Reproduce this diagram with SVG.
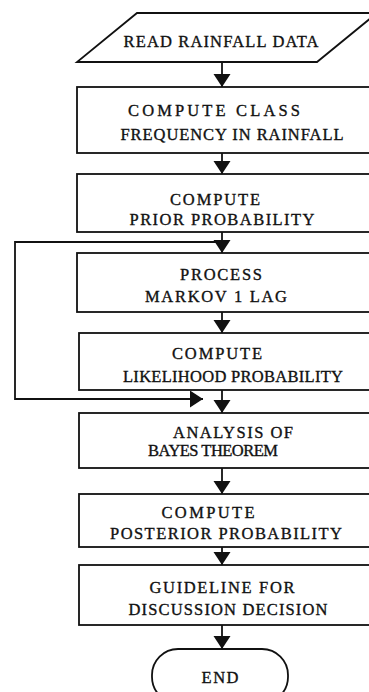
<svg xmlns="http://www.w3.org/2000/svg" width="369" height="692" viewBox="0 0 369 692">
<style>
.box{fill:#fff;stroke:#111;stroke-width:1.8}
.ln{fill:none;stroke:#111;stroke-width:1.8}
.t{font-family:"Liberation Serif","Times New Roman",serif;font-size:16.5px;fill:#111;text-anchor:middle;stroke:#111;stroke-width:0.35}
</style>
<defs>
<marker id="ah" markerUnits="userSpaceOnUse" markerWidth="14" markerHeight="18" refX="13" refY="8.5" orient="auto">
<path d="M0,0 L13,8.5 L0,17 Z" fill="#111"/>
</marker>
</defs>
<rect width="369" height="692" fill="#fff"/>
<g id="connectors">
<line class="ln" x1="222" y1="62" x2="222" y2="87" marker-end="url(#ah)"/>
<line class="ln" x1="222" y1="153" x2="222" y2="174" marker-end="url(#ah)"/>
<line class="ln" x1="222" y1="232" x2="222" y2="253" marker-end="url(#ah)"/>
<line class="ln" x1="222" y1="312" x2="222" y2="333" marker-end="url(#ah)"/>
<line class="ln" x1="222" y1="390" x2="222" y2="413" marker-end="url(#ah)"/>
<line class="ln" x1="222" y1="468" x2="222" y2="494" marker-end="url(#ah)"/>
<line class="ln" x1="222" y1="547" x2="222" y2="565" marker-end="url(#ah)"/>
<line class="ln" x1="222" y1="625" x2="222" y2="649" marker-end="url(#ah)"/>
<polyline class="ln" points="222,242 15,242 15,399 203,399" marker-end="url(#ah)"/>
</g>
<g id="read">
<polygon class="box" points="137,13 377,13 317,62 77,62"/>
<text class="t" x="221" y="47" textLength="195" lengthAdjust="spacing">READ RAINFALL DATA</text>
</g>
<g id="freq">
<rect class="box" x="77" y="87" width="296" height="66"/>
<text class="t" x="214" y="116" textLength="172" lengthAdjust="spacing">COMPUTE  CLASS</text>
<text class="t" x="232" y="140" textLength="223" lengthAdjust="spacing">FREQUENCY IN RAINFALL</text>
</g>
<g id="prior">
<rect class="box" x="77" y="174" width="296" height="58"/>
<text class="t" x="215" y="205" textLength="90" lengthAdjust="spacing">COMPUTE</text>
<text class="t" x="222" y="225" textLength="185" lengthAdjust="spacing">PRIOR  PROBABILITY</text>
</g>
<g id="markov">
<rect class="box" x="77" y="253" width="296" height="59"/>
<text class="t" x="221" y="280" textLength="82" lengthAdjust="spacing">PROCESS</text>
<text class="t" x="216" y="302" textLength="142" lengthAdjust="spacing">MARKOV  1 LAG</text>
</g>
<g id="likelihood">
<rect class="box" x="79" y="333" width="294" height="57"/>
<text class="t" x="217" y="359" textLength="90" lengthAdjust="spacing">COMPUTE</text>
<text class="t" x="233" y="382" textLength="220" lengthAdjust="spacing">LIKELIHOOD  PROBABILITY</text>
</g>
<g id="bayes">
<rect class="box" x="79" y="413" width="294" height="55"/>
<text class="t" x="233" y="438" textLength="120" lengthAdjust="spacing">ANALYSIS OF</text>
<text class="t" x="213" y="456" textLength="130" lengthAdjust="spacing">BAYES  THEOREM</text>
</g>
<g id="posterior">
<rect class="box" x="79" y="494" width="294" height="53"/>
<text class="t" x="208" y="518" textLength="93" lengthAdjust="spacing">COMPUTE</text>
<text class="t" x="226" y="539" textLength="232" lengthAdjust="spacing">POSTERIOR  PROBABILITY</text>
</g>
<g id="guideline">
<rect class="box" x="79" y="565" width="294" height="60"/>
<text class="t" x="222" y="593" textLength="145" lengthAdjust="spacing">GUIDELINE  FOR</text>
<text class="t" x="228" y="615" textLength="199" lengthAdjust="spacing">DISCUSSION  DECISION</text>
</g>
<g id="end">
<rect class="box" x="152" y="649" width="136" height="54" rx="26" ry="26"/>
<text class="t" x="220" y="683" textLength="37" lengthAdjust="spacing">END</text>
</g>
</svg>
